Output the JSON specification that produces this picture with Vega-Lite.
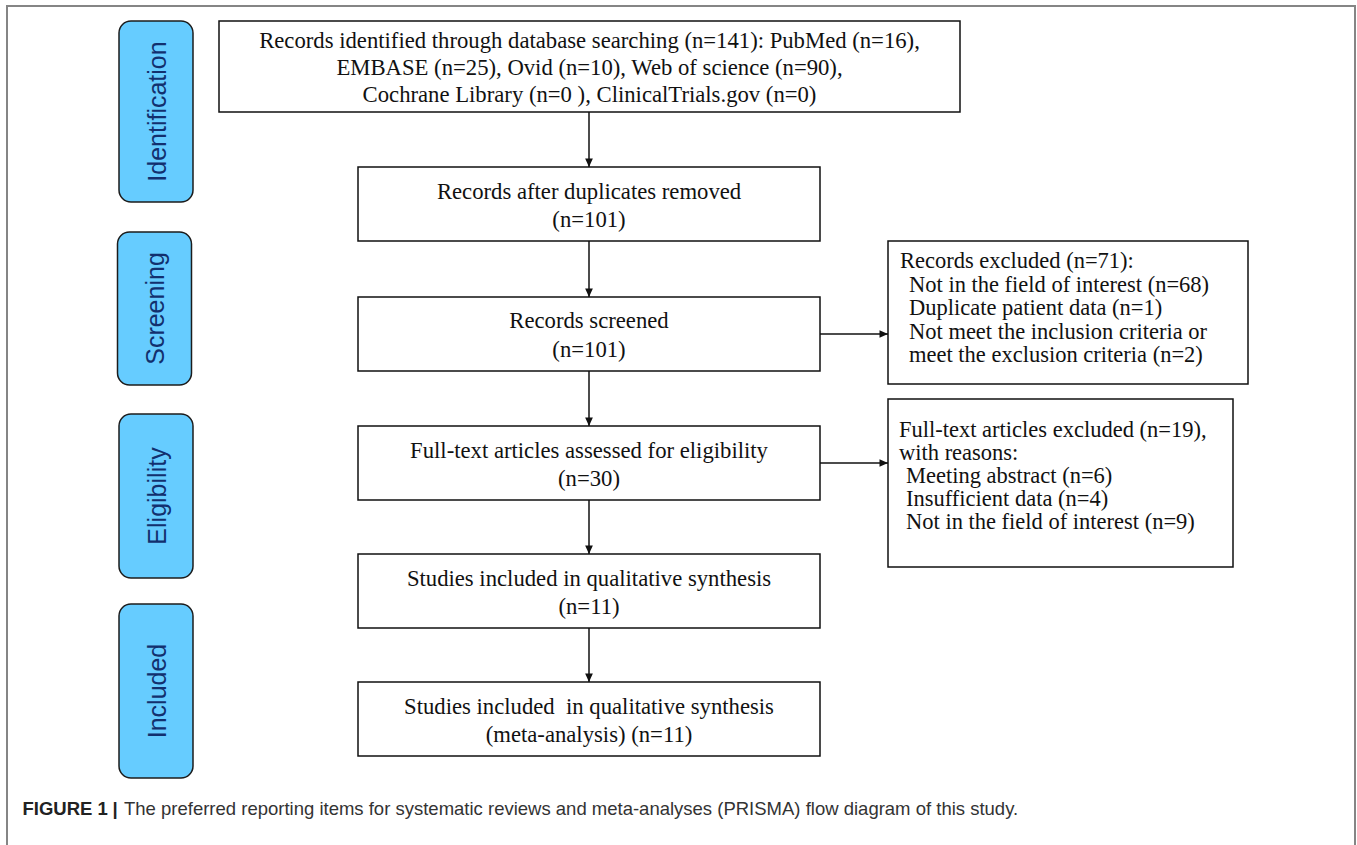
{
  "$schema": "https://vega.github.io/schema/vega-lite/v6.json",
  "width": 1357,
  "height": 845,
  "padding": 0,
  "autosize": {"type": "none"},
  "background": "white",
  "config": {"view": {"stroke": null}},
  "datasets": {
    "frame": [{"x0": 7, "x1": 1355, "y0": 6, "y1": 852}],
    "stages": [
      {"label": "Identification", "x0": 119, "x1": 193, "y0": 21, "y1": 202, "xc": 156, "yc": 111.5},
      {"label": "Screening", "x0": 117.5, "x1": 191.5, "y0": 232, "y1": 385, "xc": 154.5, "yc": 308.5},
      {"label": "Eligibility", "x0": 119, "x1": 193, "y0": 414, "y1": 578, "xc": 156, "yc": 496},
      {"label": "Included", "x0": 119, "x1": 193, "y0": 604, "y1": 778, "xc": 156, "yc": 691}
    ],
    "boxes": [
      {"id": "identified", "x0": 219, "x1": 960, "y0": 21, "y1": 112},
      {"id": "dedup", "x0": 358, "x1": 820, "y0": 167, "y1": 241},
      {"id": "screened", "x0": 358, "x1": 820, "y0": 297, "y1": 371},
      {"id": "fulltext", "x0": 358, "x1": 820, "y0": 426, "y1": 500},
      {"id": "qualitative", "x0": 358, "x1": 820, "y0": 554, "y1": 628},
      {"id": "meta", "x0": 358, "x1": 820, "y0": 682, "y1": 756},
      {"id": "excluded1", "x0": 888, "x1": 1248, "y0": 241, "y1": 384},
      {"id": "excluded2", "x0": 888, "x1": 1233, "y0": 399, "y1": 567}
    ],
    "lines": [
      {"t": "Records identified through database searching (n=141): PubMed (n=16),", "x": 589.5, "y": 48, "a": "c"},
      {"t": "EMBASE (n=25), Ovid (n=10), Web of science (n=90),", "x": 589.5, "y": 75, "a": "c"},
      {"t": "Cochrane Library (n=0 ), ClinicalTrials.gov (n=0)", "x": 589.5, "y": 102, "a": "c"},
      {"t": "Records after duplicates removed", "x": 589, "y": 199, "a": "c"},
      {"t": "(n=101)", "x": 589, "y": 227, "a": "c"},
      {"t": "Records screened", "x": 589, "y": 328, "a": "c"},
      {"t": "(n=101)", "x": 589, "y": 357, "a": "c"},
      {"t": "Full-text articles assessed for eligibility", "x": 589, "y": 458, "a": "c"},
      {"t": "(n=30)", "x": 589, "y": 486, "a": "c"},
      {"t": "Studies included in qualitative synthesis", "x": 589, "y": 586, "a": "c"},
      {"t": "(n=11)", "x": 589, "y": 614, "a": "c"},
      {"t": "Studies included \u00a0in qualitative synthesis", "x": 589, "y": 714, "a": "c"},
      {"t": "(meta-analysis) (n=11)", "x": 589, "y": 742, "a": "c"},
      {"t": "Records excluded (n=71):", "x": 900, "y": 268, "a": "l"},
      {"t": "Not in the field of interest (n=68)", "x": 909, "y": 291.5, "a": "l"},
      {"t": "Duplicate patient data (n=1)", "x": 909, "y": 315, "a": "l"},
      {"t": "Not meet the inclusion criteria or", "x": 909, "y": 338.5, "a": "l"},
      {"t": "meet the exclusion criteria (n=2)", "x": 909, "y": 362, "a": "l"},
      {"t": "Full-text articles excluded (n=19),", "x": 899, "y": 437, "a": "l"},
      {"t": "with reasons:", "x": 899, "y": 460, "a": "l"},
      {"t": "Meeting abstract (n=6)", "x": 906, "y": 483, "a": "l"},
      {"t": "Insufficient data (n=4)", "x": 906, "y": 506, "a": "l"},
      {"t": "Not in the field of interest (n=9)", "x": 906, "y": 529, "a": "l"}
    ],
    "links": [
      {"x": 589, "y": 112, "x2": 589, "y2": 167},
      {"x": 589, "y": 241, "x2": 589, "y2": 297},
      {"x": 589, "y": 371, "x2": 589, "y2": 426},
      {"x": 589, "y": 500, "x2": 589, "y2": 554},
      {"x": 589, "y": 628, "x2": 589, "y2": 682},
      {"x": 820, "y": 334, "x2": 888, "y2": 334},
      {"x": 820, "y": 463, "x2": 888, "y2": 463}
    ],
    "heads": [
      {"x": 589, "y": 167, "dir": "down"},
      {"x": 589, "y": 297, "dir": "down"},
      {"x": 589, "y": 426, "dir": "down"},
      {"x": 589, "y": 554, "dir": "down"},
      {"x": 589, "y": 682, "dir": "down"},
      {"x": 888, "y": 334, "dir": "right"},
      {"x": 888, "y": 463, "dir": "right"}
    ],
    "caption": [
      {"t": "FIGURE 1", "x": 22.5, "y": 815, "w": "bold"},
      {"t": "|", "x": 112.5, "y": 815, "w": "bold"},
      {"t": "The preferred reporting items for systematic reviews and meta-analyses (PRISMA) flow diagram of this study.", "x": 124, "y": 815, "w": "normal"}
    ]
  },
  "layer": [
    {
      "data": {"name": "frame"},
      "mark": {"type": "rect", "fill": null, "fillOpacity": 0, "stroke": "#858585", "strokeWidth": 2},
      "encoding": {
        "x": {"field": "x0", "type": "quantitative", "scale": {"domain": [0, 1357], "nice": false, "zero": false}, "axis": null},
        "x2": {"field": "x1"},
        "y": {"field": "y0", "type": "quantitative", "scale": {"domain": [0, 845], "nice": false, "zero": false, "reverse": true}, "axis": null},
        "y2": {"field": "y1"}
      }
    },
    {
      "data": {"name": "stages"},
      "mark": {"type": "rect", "fill": "#66ccff", "stroke": "#1c1c1c", "strokeWidth": 1.5, "cornerRadius": 12},
      "encoding": {
        "x": {"field": "x0", "type": "quantitative", "scale": {"domain": [0, 1357], "nice": false, "zero": false}, "axis": null},
        "x2": {"field": "x1"},
        "y": {"field": "y0", "type": "quantitative", "scale": {"domain": [0, 845], "nice": false, "zero": false, "reverse": true}, "axis": null},
        "y2": {"field": "y1"}
      }
    },
    {
      "data": {"name": "stages"},
      "mark": {"type": "text", "angle": 270, "align": "center", "baseline": "middle", "font": "Liberation Sans", "fontSize": 25, "color": "#12306e", "xOffset": 1.5},
      "encoding": {
        "x": {"field": "xc", "type": "quantitative", "scale": {"domain": [0, 1357], "nice": false, "zero": false}, "axis": null},
        "y": {"field": "yc", "type": "quantitative", "scale": {"domain": [0, 845], "nice": false, "zero": false, "reverse": true}, "axis": null},
        "text": {"field": "label"}
      }
    },
    {
      "data": {"name": "links"},
      "mark": {"type": "rule", "color": "#111111", "strokeWidth": 1.5},
      "encoding": {
        "x": {"field": "x", "type": "quantitative", "scale": {"domain": [0, 1357], "nice": false, "zero": false}, "axis": null},
        "x2": {"field": "x2"},
        "y": {"field": "y", "type": "quantitative", "scale": {"domain": [0, 845], "nice": false, "zero": false, "reverse": true}, "axis": null},
        "y2": {"field": "y2"}
      }
    },
    {
      "data": {"name": "boxes"},
      "mark": {"type": "rect", "fill": "white", "stroke": "#111111", "strokeWidth": 1.5},
      "encoding": {
        "x": {"field": "x0", "type": "quantitative", "scale": {"domain": [0, 1357], "nice": false, "zero": false}, "axis": null},
        "x2": {"field": "x1"},
        "y": {"field": "y0", "type": "quantitative", "scale": {"domain": [0, 845], "nice": false, "zero": false, "reverse": true}, "axis": null},
        "y2": {"field": "y1"}
      }
    },
    {
      "data": {"name": "heads"},
      "transform": [{"filter": "datum.dir === 'down'"}],
      "mark": {"type": "point", "shape": "M0,0L-1,-2.2L1,-2.2Z", "size": 60, "filled": true, "color": "#111111", "opacity": 1},
      "encoding": {
        "x": {"field": "x", "type": "quantitative", "scale": {"domain": [0, 1357], "nice": false, "zero": false}, "axis": null},
        "y": {"field": "y", "type": "quantitative", "scale": {"domain": [0, 845], "nice": false, "zero": false, "reverse": true}, "axis": null}
      }
    },
    {
      "data": {"name": "heads"},
      "transform": [{"filter": "datum.dir === 'right'"}],
      "mark": {"type": "point", "shape": "M0,0L-2.2,-1L-2.2,1Z", "size": 60, "filled": true, "color": "#111111", "opacity": 1},
      "encoding": {
        "x": {"field": "x", "type": "quantitative", "scale": {"domain": [0, 1357], "nice": false, "zero": false}, "axis": null},
        "y": {"field": "y", "type": "quantitative", "scale": {"domain": [0, 845], "nice": false, "zero": false, "reverse": true}, "axis": null}
      }
    },
    {
      "data": {"name": "lines"},
      "transform": [{"filter": "datum.a === 'c'"}],
      "mark": {"type": "text", "align": "center", "baseline": "alphabetic", "font": "Liberation Serif", "fontSize": 22.7, "color": "#111111"},
      "encoding": {
        "x": {"field": "x", "type": "quantitative", "scale": {"domain": [0, 1357], "nice": false, "zero": false}, "axis": null},
        "y": {"field": "y", "type": "quantitative", "scale": {"domain": [0, 845], "nice": false, "zero": false, "reverse": true}, "axis": null},
        "text": {"field": "t"}
      }
    },
    {
      "data": {"name": "lines"},
      "transform": [{"filter": "datum.a === 'l'"}],
      "mark": {"type": "text", "align": "left", "baseline": "alphabetic", "font": "Liberation Serif", "fontSize": 22.5, "color": "#111111"},
      "encoding": {
        "x": {"field": "x", "type": "quantitative", "scale": {"domain": [0, 1357], "nice": false, "zero": false}, "axis": null},
        "y": {"field": "y", "type": "quantitative", "scale": {"domain": [0, 845], "nice": false, "zero": false, "reverse": true}, "axis": null},
        "text": {"field": "t"}
      }
    },
    {
      "data": {"name": "caption"},
      "transform": [{"filter": "datum.w === 'bold'"}],
      "mark": {"type": "text", "align": "left", "baseline": "alphabetic", "font": "Liberation Sans", "fontSize": 18.5, "fontWeight": "bold", "color": "#222222"},
      "encoding": {
        "x": {"field": "x", "type": "quantitative", "scale": {"domain": [0, 1357], "nice": false, "zero": false}, "axis": null},
        "y": {"field": "y", "type": "quantitative", "scale": {"domain": [0, 845], "nice": false, "zero": false, "reverse": true}, "axis": null},
        "text": {"field": "t"}
      }
    },
    {
      "data": {"name": "caption"},
      "transform": [{"filter": "datum.w === 'normal'"}],
      "mark": {"type": "text", "align": "left", "baseline": "alphabetic", "font": "Liberation Sans", "fontSize": 18.5, "color": "#333333"},
      "encoding": {
        "x": {"field": "x", "type": "quantitative", "scale": {"domain": [0, 1357], "nice": false, "zero": false}, "axis": null},
        "y": {"field": "y", "type": "quantitative", "scale": {"domain": [0, 845], "nice": false, "zero": false, "reverse": true}, "axis": null},
        "text": {"field": "t"}
      }
    }
  ]
}
